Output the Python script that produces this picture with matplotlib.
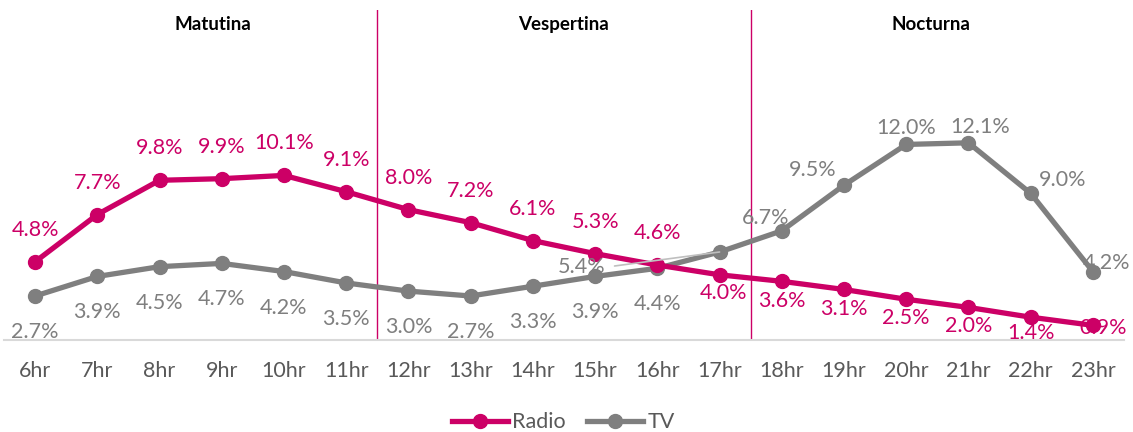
import numpy as np
import matplotlib.pyplot as plt

plt.rcParams['font.family'] = ['Lato', 'DejaVu Sans']

# ------------------------------------------------
# Data
# ------------------------------------------------
hours = ["6hr", "7hr", "8hr", "9hr", "10hr", "11hr", "12hr", "13hr", "14hr",
         "15hr", "16hr", "17hr", "18hr", "19hr", "20hr", "21hr", "22hr", "23hr"]
radio = [4.8, 7.7, 9.8, 9.9, 10.1, 9.1, 8.0, 7.2, 6.1, 5.3, 4.6, 4.0,
         3.6, 3.1, 2.5, 2.0, 1.4, 0.9]
tv = [2.7, 3.9, 4.5, 4.7, 4.2, 3.5, 3.0, 2.7, 3.3, 3.9, 4.4, 5.4,
      6.7, 9.5, 12.0, 12.1, 9.0, 4.2]
sections = ["Matutina", "Vespertina", "Nocturna"]

RADIO_C = "#CC0066"
TV_C = "#7F7F7F"
TEXT_C = "#595959"

# label offsets in pixels (dx, dy), y up
radio_off = [(0, 32)] * 11 + [(4, -18), (0, -20), (0, -20), (0, -19), (0, -19), (0, -16), (10, -3)]
tv_off = [(0, -36)] * 11 + [(-138, -15), (-16, 13), (-31, 15), (0, 16), (12, 16), (32, 13), (14, 9)]

px = 0.72  # pixel -> point at dpi 100
FS = 15.5

fig = plt.figure(figsize=(11.33, 4.32), dpi=100)
ax = fig.add_axes([4 / 1133, 92 / 432, 1120 / 1133, 330 / 432])

x = np.arange(len(hours))
ax.plot(x, radio, color=RADIO_C, lw=3.8, marker='o', ms=10, label="Radio", zorder=3)
ax.plot(x, tv, color=TV_C, lw=3.8, marker='o', ms=10, label="TV", zorder=2)

for i, v in enumerate(radio):
    dx, dy = radio_off[i]
    ax.annotate(f"{v:.1f}%", (x[i], v), xytext=(dx * px, dy * px), textcoords='offset points',
                ha='center', va='center', fontsize=FS, color=RADIO_C, zorder=5)
for i, v in enumerate(tv):
    dx, dy = tv_off[i]
    ax.annotate(f"{v:.1f}%", (x[i], v), xytext=(dx * px, dy * px), textcoords='offset points',
                ha='center', va='center', fontsize=FS, color=TV_C, zorder=5)

# leader line for the moved 17hr TV label
ax.annotate("", (x[11], tv[11]), xytext=(-105 * px, -14 * px), textcoords='offset points',
            arrowprops=dict(arrowstyle='-', color='#BFBFBF', lw=1.2, shrinkA=0, shrinkB=0))

# section separators and titles
for b in [5.5, 11.5]:
    ax.axvline(b, color=RADIO_C, lw=1, zorder=1)
for pos, name in zip([2.86, 8.49, 14.39], sections):
    ax.text(pos, 0.955, name, transform=ax.get_xaxis_transform(), ha='center', va='center',
            fontsize=13.5, fontweight='bold', color='black')

ax.set_xlim(-0.5, len(hours) - 0.5)
ax.set_ylim(0, 20.25)
ax.set_xticks(x)
ax.set_xticklabels(hours, fontsize=FS, color=TEXT_C)
ax.tick_params(axis='x', length=0, pad=15)
ax.set_yticks([])
for s in ['top', 'left', 'right']:
    ax.spines[s].set_visible(False)
ax.spines['bottom'].set_color('#D9D9D9')
ax.spines['bottom'].set_linewidth(1.5)

leg = fig.legend(loc='center', bbox_to_anchor=(0.497, 0.022), ncol=2, frameon=False,
                 fontsize=FS, handlelength=2.6, handletextpad=0.2, columnspacing=1.0)
for t in leg.get_texts():
    t.set_color(TEXT_C)

fig.savefig("out.png", dpi=100)
